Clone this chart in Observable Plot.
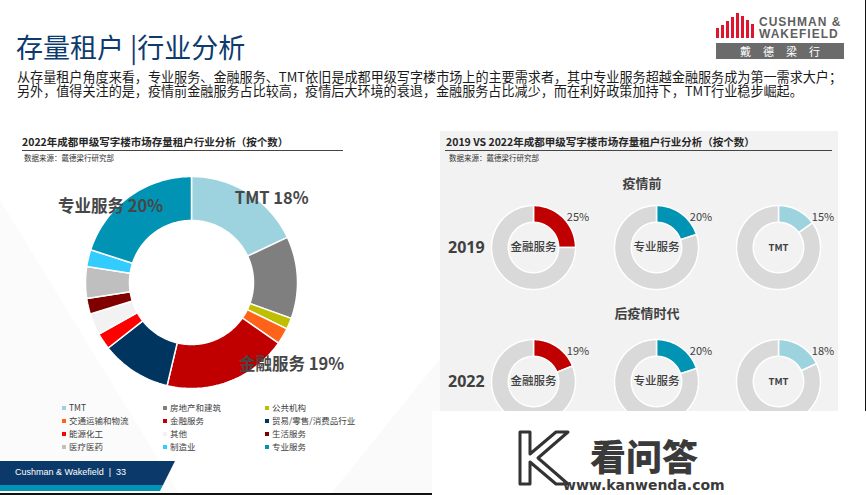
<!DOCTYPE html>
<html><head><meta charset="utf-8">
<script src="https://cdn.jsdelivr.net/npm/d3@7"></script>
<script src="https://cdn.jsdelivr.net/npm/@observablehq/plot@0.6"></script>
<style>
html,body{margin:0;padding:0}
body{width:866px;height:495px;overflow:hidden;background:#fff;font-family:"Noto Sans CJK SC","Noto Sans",sans-serif;position:relative;color:#404040}
.abs{position:absolute;white-space:nowrap}
.plot{position:absolute}
.leg{position:absolute;font-size:8.5px;line-height:10px;color:#404040;white-space:nowrap}
.leg i{display:inline-block;width:4px;height:4px;margin-right:3px;vertical-align:middle;position:relative;top:-1px}
</style></head><body>
<svg class="abs" style="left:0;top:0" width="866" height="495">
  <polygon points="330,495 600,160 866,495" fill="#fafafa"/>
  <polygon points="0,200 180,495 0,495" fill="#fbfbfb"/>
  <line x1="865.5" y1="0" x2="865.5" y2="420" stroke="#111" stroke-width="1"/>
  <polygon points="0,461 175,461 163,485 0,485" fill="#0b3a6a"/>
  <polygon points="0,485 163,485 160,491 0,491" fill="#0093b4"/>
  <line x1="0" y1="494" x2="440" y2="494" stroke="#111" stroke-width="2"/>
</svg>
<div class="abs" style="left:440px;top:131px;width:398px;height:364px;background:#f2f2f2"></div>

<!-- logo -->
<svg class="abs" style="left:712px;top:8px" width="46" height="32" id="logoBars"></svg>
<div class="abs" style="left:759px;top:17px;font-family:'Liberation Sans',Arial,sans-serif;font-weight:bold;font-size:12px;line-height:10px;height:10px;color:#5f5f5f;letter-spacing:1px">CUSHMAN &amp;</div>
<div class="abs" style="left:759px;top:29px;font-family:'Liberation Sans',Arial,sans-serif;font-weight:bold;font-size:12px;line-height:10px;height:10px;color:#5f5f5f;letter-spacing:1px">WAKEFIELD</div>
<div class="abs" style="left:716px;top:43px;width:128px;height:16px;background:#6b6b6b;color:#fff;font-size:11px;line-height:16px;text-align:center;letter-spacing:12px;text-indent:12px">戴德梁行</div>

<div class="abs" style="left:16px;top:33px;font-size:27px;line-height:27px;color:#0d3b6e">存量租户 |行业分析</div>
<div class="abs" style="left:17px;top:70px;font-size:13.1px;line-height:14px;height:14px;color:#1a1a1a">从存量租户角度来看，专业服务、金融服务、TMT依旧是成都甲级写字楼市场上的主要需求者，其中专业服务超越金融服务成为第一需求大户；</div>
<div class="abs" style="left:17px;top:84px;font-size:13.1px;line-height:14px;height:14px;color:#1a1a1a">另外，值得关注的是，疫情前金融服务占比较高，疫情后大环境的衰退，金融服务占比减少，而在利好政策加持下，TMT行业稳步崛起。</div>

<div class="abs" style="left:22px;top:135px;font-size:10.5px;line-height:14px;font-weight:bold;color:#262626">2022年成都甲级写字楼市场存量租户行业分析（按个数）</div>
<div class="abs" style="left:22px;top:150px;width:321px;height:1px;background:#444"></div>
<div class="abs" style="left:24px;top:153px;font-size:7.5px;line-height:10px;color:#333">数据来源：戴德梁行研究部</div>

<div class="abs" style="left:446px;top:135px;font-size:10.5px;line-height:14px;font-weight:bold;color:#262626">2019 VS 2022年成都甲级写字楼市场存量租户行业分析（按个数）</div>
<div class="abs" style="left:445px;top:150px;width:387px;height:1px;background:#444"></div>
<div class="abs" style="left:449px;top:153px;font-size:7.5px;line-height:10px;color:#333">数据来源：戴德梁行研究部</div>

<div id="periodLabels"></div>
<div id="legend"></div>
<div id="charts"></div>

<div class="abs" style="left:15px;top:466px;font-family:'Liberation Sans',Arial,sans-serif;font-size:9px;line-height:12px;color:#fff">Cushman &amp; Wakefield &nbsp;|&nbsp; 33</div>

<!-- watermark -->
<div class="abs" style="left:432px;top:411px;width:434px;height:84px;background:#fff"></div>
<svg class="abs" style="left:516px;top:428px" width="56" height="60">
  <path d="M4,4 L14,4 L14,26 L40,4 L52,4 L22,30 L52,56 L40,56 L14,34 L14,56 L4,56 Z" fill="#fff" stroke="#333" stroke-width="3" stroke-linejoin="round"/>
</svg>
<div class="abs" style="left:590px;top:437px;font-size:36px;line-height:36px;height:36px;font-weight:900;color:#3a3a3a">看问答</div>
<div class="abs" style="left:563px;top:478px;font-family:'DejaVu Sans',sans-serif;font-size:14px;line-height:15px;font-weight:bold;color:#3a3a3a">www.kanwenda.com</div>

<script>
// ---------- data ----------
const industries = ["TMT","房地产和建筑","公共机构","交通运输和物流","金融服务","贸易/零售/消费品行业","能源化工","其他","生活服务","医疗医药","制造业","专业服务"];
const shares2022 = [18, 12.5, 1.7, 2.5, 19, 10.7, 2.5, 3.3, 2.4, 4.8, 2.6, 20];
const industryColors = ["#9dd3de","#7f7f7f","#bfbf00","#ff6319","#c00000","#00355f","#ff0000","#f2f2f2","#800000","#bfbfbf","#33ccff","#0093b4"];
const labelledIndustries = ["TMT","金融服务","专业服务"];
const labelledShares = [18, 19, 20];

const focusIndustries = ["金融服务","专业服务","TMT"];
const focusCenterText = ["金融服务","专业服务","TMT"];
const focusColors = ["#c00000","#0093b4","#9dd3de"];
const years = ["2019","2022"];
const periods = ["疫情前","后疫情时代"];
const share2019 = [25, 20, 15];
const share2022 = [19, 20, 18];
const restColor = "#d9d9d9";

// ---------- helpers ----------
function annulus(a0, a1, r0, r1) {
  const n = Math.max(2, Math.ceil((a1 - a0) / 1.5));
  const pts = [];
  for (let i = 0; i <= n; i++) { const a = (a0 + (a1 - a0) * i / n) * Math.PI / 180; pts.push([r1 * Math.sin(a), -r1 * Math.cos(a)]); }
  for (let i = n; i >= 0; i--) { const a = (a0 + (a1 - a0) * i / n) * Math.PI / 180; pts.push([r0 * Math.sin(a), -r0 * Math.cos(a)]); }
  pts.push(pts[0]);
  return {type: "Polygon", coordinates: [pts]};
}
const unitDomain = {type: "MultiPoint", coordinates: [[-1, -1], [1, 1]]};
const fontCJK = "'Noto Sans CJK SC','Noto Sans',sans-serif";
const charts = document.getElementById("charts");
function place(svg, left, top) { svg.classList.add("plot"); svg.style.left = left + "px"; svg.style.top = top + "px"; charts.appendChild(svg); }

// ---------- big donut ----------
const total = d3.sum(shares2022);
let acc = 0;
const slices = industries.map((name, i) => {
  const a0 = acc / total * 360; acc += shares2022[i]; const a1 = acc / total * 360;
  return {name, value: shares2022[i], a0, a1, geom: annulus(a0, a1, 0.585, 1)};
});
const labelOffsets = {"TMT": [32, -8], "金融服务": [68, -2], "专业服务": [-28, -3]};
const bigLabels = labelledIndustries.map((name, i) => {
  const s = slices.find(d => d.name === name);
  const m = (s.a0 + s.a1) / 2 * Math.PI / 180;
  return {name, share: labelledShares[i], x: 0.85 * Math.sin(m), y: -0.85 * Math.cos(m), dx: labelOffsets[name][0], dy: labelOffsets[name][1]};
});
const big = Plot.plot({
  width: 330, height: 240, marginLeft: 35, marginRight: 83, marginTop: 16, marginBottom: 12,
  style: {fontFamily: fontCJK, background: "transparent", overflow: "visible"},
  projection: {type: "identity", domain: unitDomain, clip: false},
  color: {domain: industries, range: industryColors},
  marks: [
    Plot.geo(slices, {geometry: "geom", fill: "name", stroke: "white", strokeWidth: 1.5}),
    ...bigLabels.map(l => Plot.text([l], {x: "x", y: "y", text: d => d.name + " " + d.share + "%", dx: l.dx, dy: l.dy, fontSize: 16.5, fontWeight: 600, fill: "#474747"}))
  ]
});
place(big, 50, 160);

// ---------- legend ----------
const legend = document.getElementById("legend");
const legCols = [62, 163, 265], legRows = [402, 415, 428, 441];
industries.forEach((name, i) => {
  const d = document.createElement("div");
  d.className = "leg";
  d.style.left = legCols[i % 3] + "px";
  d.style.top = legRows[Math.floor(i / 3)] + "px";
  d.innerHTML = `<i style="background:${industryColors[i]}"></i>${name}`;
  legend.appendChild(d);
});

// ---------- small donuts ----------
const colCenters = [533, 656, 778], rowCenters = [247, 381];
const pl = document.getElementById("periodLabels");
const periodPos = [[642, 183], [647, 313]];
periods.forEach((p, r) => {
  const d = document.createElement("div");
  d.className = "abs";
  d.style.cssText = `left:${periodPos[r][0] - 60}px;top:${periodPos[r][1] - 9}px;width:120px;text-align:center;font-size:13px;line-height:18px;font-weight:bold;color:#404040`;
  d.textContent = p;
  pl.appendChild(d);
  const y = document.createElement("div");
  y.className = "abs";
  y.style.cssText = `left:448px;top:${rowCenters[r] - 11}px;font-family:'Open Sans',sans-serif;font-size:16px;line-height:22px;font-weight:bold;color:#404040`;
  y.textContent = years[r];
  pl.appendChild(y);
});
[share2019, share2022].forEach((shares, r) => {
  shares.forEach((v, c) => {
    const segs = [
      {part: focusIndustries[c], geom: annulus(0, v * 3.6, 0.6, 1)},
      {part: "其余", geom: annulus(v * 3.6, 360, 0.6, 1)}
    ];
    const p = Plot.plot({
      width: 120, height: 90, marginLeft: 2, marginRight: 34, marginTop: 4, marginBottom: 2,
      style: {fontFamily: fontCJK, background: "transparent", overflow: "visible"},
      projection: {type: "identity", domain: unitDomain, clip: false},
      color: {domain: [...focusIndustries, "其余"], range: [...focusColors, restColor]},
      marks: [
        Plot.geo(segs, {geometry: "geom", fill: "part", stroke: "white", strokeWidth: 1.5}),
        Plot.text([focusCenterText[c]], {x: 0, y: 0, text: d => d, fontSize: focusCenterText[c] === "TMT" ? 9.5 : 11.5, fontWeight: focusCenterText[c] === "TMT" ? 700 : 500, fill: "#404040"}),
        Plot.text([v], {x: 1.06, y: -0.72, text: d => d + "%", fontSize: 11, fill: "#404040"})
      ]
    });
    place(p, colCenters[c] - 44, rowCenters[r] - 46);
  });
});

// ---------- logo bars ----------
const bars = d3.select("#logoBars");
const barTops = [20, 17, 13, 9, 5, 8, 12, 16];
barTops.forEach((t, i) => bars.append("rect").attr("x", 4 + i * 5).attr("y", t).attr("width", 3).attr("height", 30 - t).attr("fill", "#e0142d"));
</script>
</body></html>
